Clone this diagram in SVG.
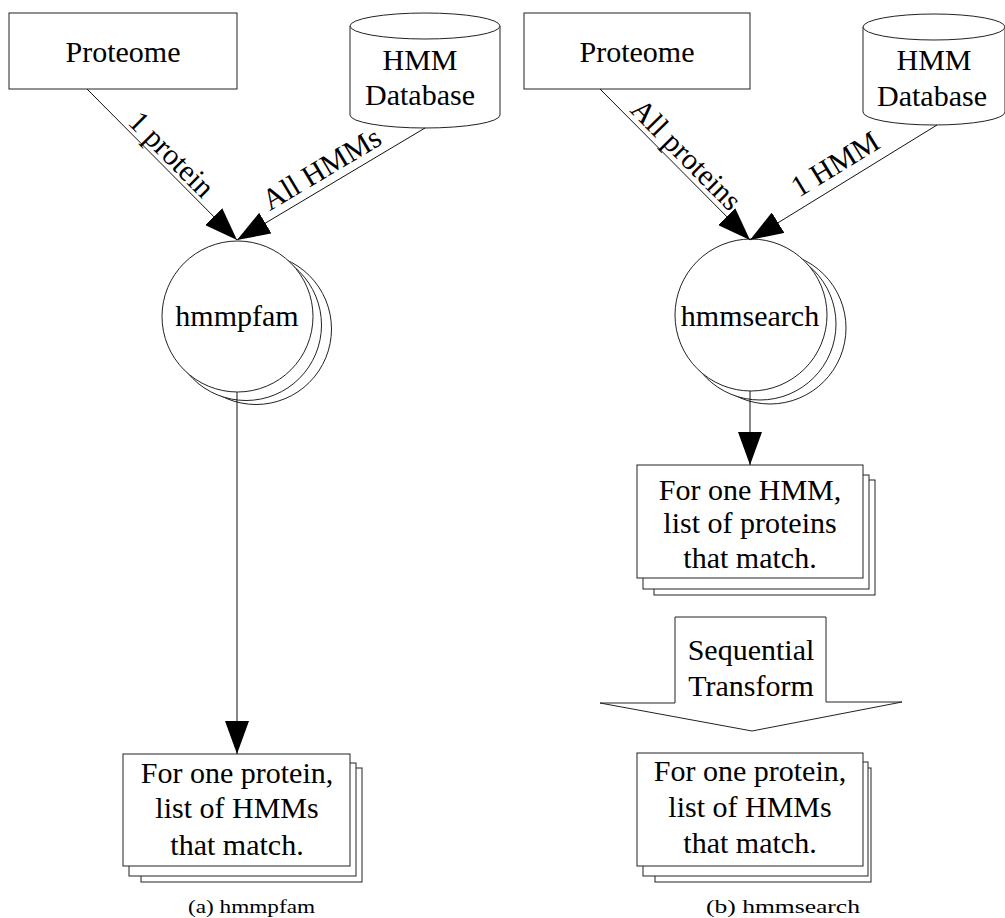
<svg xmlns="http://www.w3.org/2000/svg" width="1005" height="918" viewBox="0 0 1005 918">
<style>
  .shape { fill: #fff; stroke: #222; stroke-width: 1; }
  .edge { fill: none; stroke: #111; stroke-width: 1; }
  .t { font-family: "Liberation Serif", "Times New Roman", serif; font-size: 30px; fill: #000; text-anchor: middle; }
  .cap { font-family: "Liberation Serif", "Times New Roman", serif; font-size: 18px; fill: #000; text-anchor: middle; }
</style>
<defs>
  <marker id="ah" markerUnits="userSpaceOnUse" markerWidth="34" markerHeight="24" refX="33" refY="12" orient="auto" viewBox="0 0 34 24">
    <path d="M0,0 L33,12 L0,24 z" fill="#000"/>
  </marker>
</defs>
<rect width="1005" height="918" fill="#fff"/>

<!-- (a) hmmpfam -->
<g id="proteome-a">
  <rect class="shape" x="9" y="13" width="228" height="76"/>
  <text class="t" x="123" y="62">Proteome</text>
</g>
<g id="hmmdb-a">
  <path class="shape" d="M350,26 L350,115 A75,13 0 0 0 500,115 L500,26"/>
  <ellipse class="shape" cx="425" cy="26" rx="75" ry="13"/>
  <text class="t" x="420" y="70">HMM</text>
  <text class="t" x="420" y="105">Database</text>
</g>
<g id="hmmpfam">
  <circle class="shape" cx="256" cy="329" r="75.5"/>
  <circle class="shape" cx="246" cy="325" r="75.5"/>
  <circle class="shape" cx="237.5" cy="316.5" r="75.5"/>
  <text class="t" x="237" y="326">hmmpfam</text>
</g>
<g id="result-a">
  <rect class="shape" x="141" y="768" width="221" height="114"/>
  <rect class="shape" x="129" y="763" width="227" height="113"/>
  <rect class="shape" x="123" y="754" width="227" height="112"/>
  <text class="t" x="237" y="783">For one protein,</text>
  <text class="t" x="237" y="818">list of HMMs</text>
  <text class="t" x="237" y="855">that match.</text>
</g>
<text class="cap" x="251.5" y="913" textLength="127" lengthAdjust="spacingAndGlyphs">(a) hmmpfam</text>

<!-- (b) hmmsearch -->
<g id="proteome-b">
  <rect class="shape" x="524" y="13" width="226" height="76"/>
  <text class="t" x="637" y="62">Proteome</text>
</g>
<g id="hmmdb-b">
  <path class="shape" d="M863,27 L863,112 A71,13 0 0 0 1005,112 L1005,27"/>
  <ellipse class="shape" cx="934" cy="27" rx="71" ry="13"/>
  <text class="t" x="934" y="70">HMM</text>
  <text class="t" x="932" y="106">Database</text>
</g>
<g id="hmmsearch">
  <circle class="shape" cx="770" cy="328" r="76"/>
  <circle class="shape" cx="760" cy="324" r="76"/>
  <circle class="shape" cx="751" cy="315" r="76"/>
  <text class="t" x="750" y="326">hmmsearch</text>
</g>
<g id="result-b1">
  <rect class="shape" x="654" y="480" width="221" height="115"/>
  <rect class="shape" x="643" y="475" width="226" height="114"/>
  <rect class="shape" x="637" y="465" width="226" height="113"/>
  <text class="t" x="750" y="500">For one HMM,</text>
  <text class="t" x="750" y="533">list of proteins</text>
  <text class="t" x="750" y="568">that match.</text>
</g>
<g id="sequential-transform">
  <polygon class="shape" points="675,617 826,617 826,702 902,702 752,731 600,703 675,703"/>
  <text class="t" x="751" y="660">Sequential</text>
  <text class="t" x="751" y="696">Transform</text>
</g>
<g id="result-b2">
  <rect class="shape" x="655" y="768" width="216" height="114"/>
  <rect class="shape" x="643" y="762" width="225" height="114"/>
  <rect class="shape" x="637" y="753" width="226" height="113"/>
  <text class="t" x="750" y="781">For one protein,</text>
  <text class="t" x="750" y="817">list of HMMs</text>
  <text class="t" x="750" y="853">that match.</text>
</g>
<text class="cap" x="783" y="913" textLength="154" lengthAdjust="spacingAndGlyphs">(b) hmmsearch</text>

<!-- connectors -->
<g id="connectors">
  <line class="edge" x1="87" y1="89" x2="237" y2="240" marker-end="url(#ah)"/>
  <line class="edge" x1="425" y1="128" x2="237" y2="240" marker-end="url(#ah)"/>
  <line class="edge" x1="237" y1="392" x2="237" y2="754" marker-end="url(#ah)"/>
  <line class="edge" x1="600" y1="89" x2="750" y2="240" marker-end="url(#ah)"/>
  <line class="edge" x1="937" y1="125" x2="750" y2="240" marker-end="url(#ah)"/>
  <line class="edge" x1="750" y1="391" x2="750" y2="465" marker-end="url(#ah)"/>
  <text class="t" transform="translate(161.7,164.2) rotate(45.2)" x="0" y="-4">1 protein</text>
  <text class="t" transform="translate(330.8,184.1) rotate(-30.8)" x="0" y="-8">All HMMs</text>
  <text class="t" transform="translate(675.7,165.2) rotate(45.2)" x="0" y="-5">All proteins</text>
  <text class="t" transform="translate(846,182) rotate(-31.4)" x="0" y="-11">1 HMM</text>
</g>
</svg>
